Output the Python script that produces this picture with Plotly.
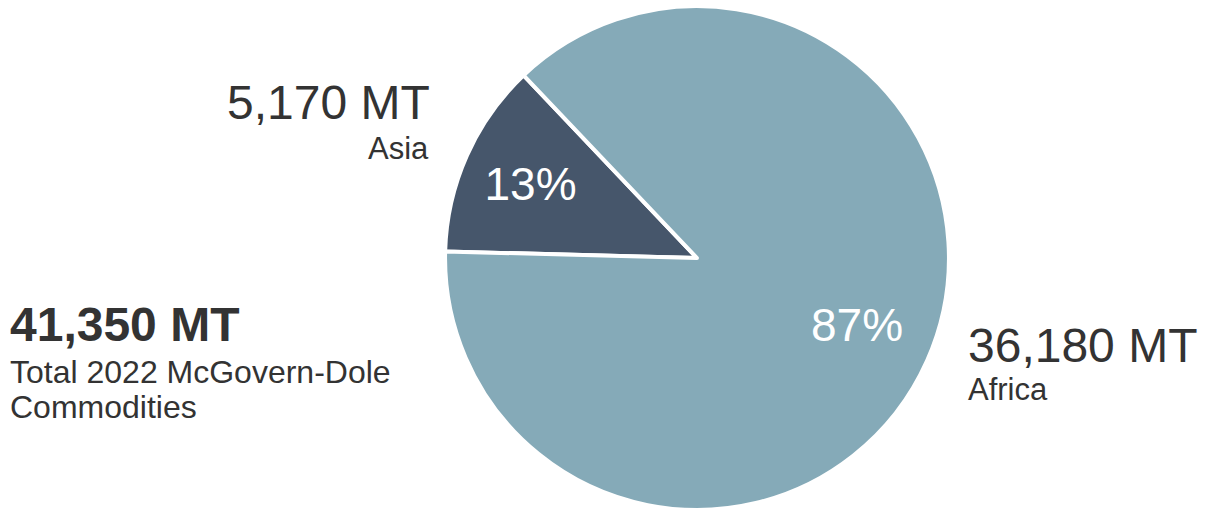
import plotly.graph_objects as go

# McGovern-Dole commodities by region, metric tons (2022)
regions = ["Asia", "Africa"]
tonnage = [5170, 36180]
total_tonnage = 41350
slice_colors = ["#46566b", "#85aab8"]

FONT = "Liberation Sans, Arial, Helvetica, sans-serif"
TEXT = "#333333"

africa_share = f"{round(100 * tonnage[1] / sum(tonnage))}%"

fig = go.Figure(
    go.Pie(
        labels=regions,
        values=tonnage,
        sort=False,
        direction="counterclockwise",
        rotation=-88.5,
        marker=dict(colors=slice_colors, line=dict(color="white", width=4)),
        # Africa's share is set as a separate label further out in its slice
        texttemplate=["%{percent:.0%}", ""],
        textposition="inside",
        insidetextorientation="horizontal",
        textfont=dict(family=FONT, size=46, color="white"),
        showlegend=False,
        hoverinfo="label+value+percent",
        domain=dict(x=[443 / 1206, 951 / 1206], y=[0.0, 0.988]),
    )
)


def fmt(v):
    return f"{v:,} MT"


annotations = [
    # Asia callout
    dict(text=fmt(tonnage[0]), x=432 / 1206, y=0.799, xanchor="right",
         font=dict(size=48, color=TEXT)),
    dict(text=regions[0], x=431 / 1206, y=0.709, xanchor="right",
         font=dict(size=31, color=TEXT)),
    # Total
    dict(text=f"<b>{fmt(total_tonnage)}</b>", x=8 / 1206, y=0.363, xanchor="left",
         font=dict(size=48, color=TEXT)),
    dict(text="Total 2022 McGovern-Dole", x=8 / 1206, y=0.2706, xanchor="left",
         font=dict(size=32, color=TEXT)),
    dict(text="Commodities", x=8 / 1206, y=0.201, xanchor="left",
         font=dict(size=32, color=TEXT)),
    # Africa callout
    dict(text=fmt(tonnage[1]), x=966 / 1206, y=0.3235, xanchor="left",
         font=dict(size=48, color=TEXT)),
    dict(text=regions[1], x=966 / 1206, y=0.2353, xanchor="left",
         font=dict(size=31, color=TEXT)),
    # Africa share inside its slice
    dict(text=africa_share, x=857 / 1206, y=0.3627, xanchor="center",
         font=dict(size=46, color="white")),
]
for a in annotations:
    a.update(xref="paper", yref="paper", yanchor="middle", showarrow=False)
    a["font"]["family"] = FONT

fig.update_layout(
    width=1206,
    height=510,
    margin=dict(l=0, r=0, t=0, b=0),
    paper_bgcolor="white",
    plot_bgcolor="white",
    annotations=annotations,
    font=dict(family=FONT, color=TEXT),
)

fig.write_html("out.html")
